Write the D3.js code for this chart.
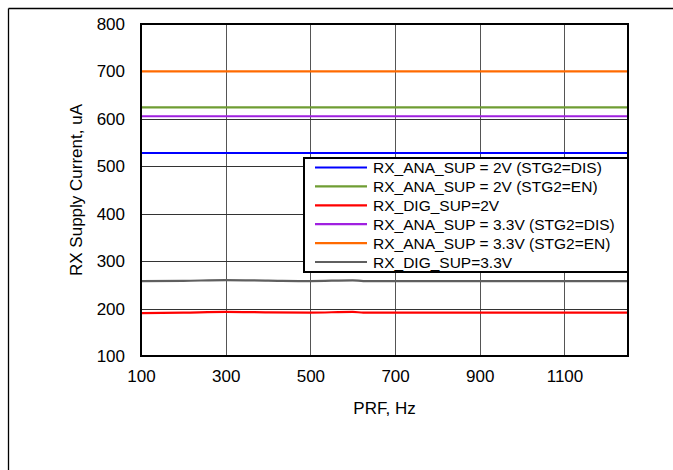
<!DOCTYPE html>
<html>
<head>
<meta charset="utf-8">
<script src="https://cdn.jsdelivr.net/npm/d3@7"></script>
<style>
  html, body { margin: 0; padding: 0; background: #fff; overflow: hidden; }
  svg { display: block; }
  text { font-family: "Liberation Sans", Arial, sans-serif; fill: #000; }
</style>
</head>
<body>
<svg id="chart" width="673" height="470"></svg>
<script>
// ---- data ----
const prf = [100, 200, 300, 400, 500, 600, 625, 700, 800, 900, 1000, 1100, 1200, 1250];
const anaSup2vDis  = [528, 528, 528, 528, 528, 528, 528, 528, 528, 528, 528, 528, 528, 528];
const anaSup2vEn   = [624, 624, 624, 624, 624, 624, 624, 624, 624, 624, 624, 624, 624, 624];
const digSup2v     = [190.5, 191.5, 193, 192, 191.5, 193, 191.5, 191.5, 191.5, 191.5, 191.5, 191.5, 191.5, 191.5];
const anaSup33vDis = [605.5, 605.5, 605.5, 605.5, 605.5, 605.5, 605.5, 605.5, 605.5, 605.5, 605.5, 605.5, 605.5, 605.5];
const anaSup33vEn  = [700, 700, 700, 700, 700, 700, 700, 700, 700, 700, 700, 700, 700, 700];
const digSup33v    = [258, 258.5, 260, 259, 258, 259.5, 258, 258, 258, 258, 258, 258, 258, 258];
const seriesNames = [
  "RX_ANA_SUP = 2V (STG2=DIS)",
  "RX_ANA_SUP = 2V (STG2=EN)",
  "RX_DIG_SUP=2V",
  "RX_ANA_SUP = 3.3V (STG2=DIS)",
  "RX_ANA_SUP = 3.3V (STG2=EN)",
  "RX_DIG_SUP=3.3V"
];
const seriesColors = ["#0000ff", "#6f9d33", "#ff0000", "#a020e0", "#ff6a00", "#5f5f5f"];
const xTicks = [100, 300, 500, 700, 900, 1100];
const yTicks = [100, 200, 300, 400, 500, 600, 700, 800];
const xTitle = "PRF, Hz";
const yTitle = "RX Supply Current, uA";

const seriesValues = [anaSup2vDis, anaSup2vEn, digSup2v, anaSup33vDis, anaSup33vEn, digSup33v];

// ---- layout ----
const svg = d3.select("#chart");
const L = 141, R = 628, T = 24, B = 356;
const x = d3.scaleLinear().domain([100, 1250]).range([L, R]);
const y = d3.scaleLinear().domain([100, 800]).range([B, T]);

// outer frame (top & left)
svg.append("line").attr("x1", 8.5).attr("x2", 673).attr("y1", 8.5).attr("y2", 8.5).attr("stroke", "#000").attr("stroke-width", 1.3);
svg.append("line").attr("x1", 8.5).attr("x2", 8.5).attr("y1", 8.5).attr("y2", 470).attr("stroke", "#000").attr("stroke-width", 1.3);

// gridlines
svg.append("g").selectAll("line").data(xTicks.filter(d => d > 100)).join("line")
  .attr("x1", d => Math.round(x(d)) + 0.5).attr("x2", d => Math.round(x(d)) + 0.5)
  .attr("y1", T).attr("y2", B)
  .attr("stroke", "#555").attr("stroke-width", 1);
svg.append("g").selectAll("line").data(yTicks.filter(d => d > 100 && d < 800)).join("line")
  .attr("x1", L).attr("x2", R)
  .attr("y1", d => Math.round(y(d)) + 0.5).attr("y2", d => Math.round(y(d)) + 0.5)
  .attr("stroke", "#333").attr("stroke-width", 1);

// axes (labels only, via d3 axis)
const xAxis = svg.append("g").attr("transform", `translate(0,${B})`)
  .call(d3.axisBottom(x).tickValues(xTicks).tickSize(0).tickPadding(14).tickFormat(d3.format("d")));
xAxis.select(".domain").remove();
xAxis.selectAll("text").attr("font-size", 17).attr("font-family", "Liberation Sans, Arial, sans-serif").attr("fill", "#000");

const yAxis = svg.append("g").attr("transform", `translate(${L},0)`)
  .call(d3.axisLeft(y).tickValues(yTicks).tickSize(0).tickPadding(16).tickFormat(d3.format("d")));
yAxis.select(".domain").remove();
yAxis.selectAll("text").attr("font-size", 17).attr("font-family", "Liberation Sans, Arial, sans-serif").attr("fill", "#000");

// series lines
const line = d3.line().x(d => x(d[0])).y(d => y(d[1])).curve(d3.curveMonotoneX);
seriesValues.forEach((vals, i) => {
  svg.append("path")
    .datum(prf.map((p, j) => [p, vals[j]]))
    .attr("d", line)
    .attr("fill", "none")
    .attr("stroke", seriesColors[i])
    .attr("stroke-width", 2.2);
});

// plot border
svg.append("rect").attr("x", L).attr("y", T).attr("width", R - L).attr("height", B - T)
  .attr("fill", "none").attr("stroke", "#000").attr("stroke-width", 2);

// legend
const lg = svg.append("g");
lg.append("rect").attr("x", 304).attr("y", 158).attr("width", R - 304).attr("height", 114)
  .attr("fill", "#fff").attr("stroke", "#000").attr("stroke-width", 2);
seriesNames.forEach((name, i) => {
  const cy = 167.5 + i * 18.9;
  lg.append("line").attr("x1", 315).attr("x2", 367).attr("y1", cy).attr("y2", cy)
    .attr("stroke", seriesColors[i]).attr("stroke-width", 2.2);
  lg.append("text").attr("x", 373).attr("y", cy).attr("dy", "0.36em")
    .attr("font-size", 15.5).text(name);
});

// axis titles
svg.append("text").attr("x", (L + R) / 2).attr("y", 414).attr("text-anchor", "middle")
  .attr("font-size", 17).text(xTitle);
svg.append("text").attr("transform", `translate(82,${(T + B) / 2}) rotate(-90)`)
  .attr("text-anchor", "middle").attr("font-size", 17).text(yTitle);
</script>
</body>
</html>
